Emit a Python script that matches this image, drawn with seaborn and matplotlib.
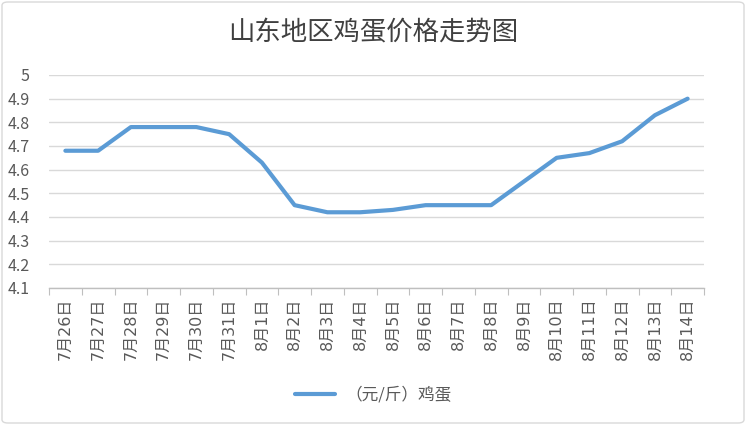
import matplotlib
matplotlib.use("Agg")
import matplotlib.pyplot as plt
import seaborn as sns
import pandas as pd
from matplotlib.patches import FancyBboxPatch
from matplotlib.ticker import FixedLocator, NullFormatter

dates = ["7月26日", "7月27日", "7月28日", "7月29日", "7月30日", "7月31日",
         "8月1日", "8月2日", "8月3日", "8月4日", "8月5日", "8月6日", "8月7日",
         "8月8日", "8月9日", "8月10日", "8月11日", "8月12日", "8月13日", "8月14日"]
prices = [4.68, 4.68, 4.78, 4.78, 4.78, 4.75, 4.63, 4.45, 4.42, 4.42, 4.43,
          4.45, 4.45, 4.45, 4.55, 4.65, 4.67, 4.72, 4.83, 4.90]
yticks = [4.1, 4.2, 4.3, 4.4, 4.5, 4.6, 4.7, 4.8, 4.9, 5.0]
ytick_labels = ["4.1", "4.2", "4.3", "4.4", "4.5", "4.6", "4.7", "4.8", "4.9", "5"]
title = "山东地区鸡蛋价格走势图"
series_name = "（元/斤）鸡蛋"

sns.set_theme(style="white")
plt.rcParams['font.family'] = ['Noto Sans CJK SC', 'DejaVu Sans']

df = pd.DataFrame({"date": dates, "price": prices, "series": series_name})
df["pos"] = range(len(dates))

fig = plt.figure(figsize=(7.46, 4.25), dpi=100)
ax = fig.add_axes([49/746, 1-288/425, (704-49)/746, (288-75)/425])

sns.lineplot(data=df, x="pos", y="price", hue="series", palette=["#5B9BD5"],
             linewidth=3.0, ax=ax, legend=True)

ax.set_xlim(-0.5, len(dates)-0.5)
ax.set_ylim(4.1, 5.0)
ax.set_yticks(yticks)
ax.set_yticklabels(ytick_labels)
ax.set_xticks(range(len(dates)))
ax.set_xticklabels(dates, rotation=90, va="top", ha="center",
                   family=['DejaVu Sans', 'Noto Sans CJK SC'], fontsize=11.5)
ax.xaxis.set_minor_locator(FixedLocator([i - 0.5 for i in range(len(dates)+1)]))
ax.xaxis.set_minor_formatter(NullFormatter())
ax.tick_params(axis="x", which="major", length=0, pad=7, labelcolor="#595959")
ax.tick_params(axis="x", which="minor", length=5, width=0.8, color="#BFBFBF", bottom=True)
ax.tick_params(axis="y", length=0, labelsize=11.5, labelcolor="#595959", pad=14)
ax.set_xlabel("")
ax.set_ylabel("")
ax.grid(axis="y", color="#D9D9D9", linewidth=1)
ax.set_axisbelow(True)
for s in ["top", "right", "left"]:
    ax.spines[s].set_visible(False)
ax.spines["bottom"].set_color("#BFBFBF")
ax.spines["bottom"].set_linewidth(1)

leg = ax.legend(loc="center", bbox_to_anchor=(0.5, 1-395/425), bbox_transform=fig.transFigure,
                frameon=False, fontsize=12, handlelength=2.4, handletextpad=0.6)
for t in leg.get_texts():
    t.set_color("#595959")

fig.text(0.5, 1-33/425, title, ha="center", va="center", fontsize=19, color="#404040")

border = FancyBboxPatch((2/746, 2/425), 742/746, 421/425, boxstyle="round,pad=0,rounding_size=0.008",
                        transform=fig.transFigure, fill=False, edgecolor="#D9D9D9", linewidth=1)
fig.patches.append(border)

fig.savefig("out.png", dpi=100, facecolor="white")
